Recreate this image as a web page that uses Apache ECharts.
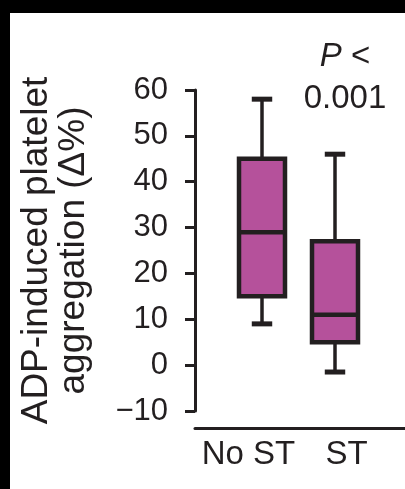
<!DOCTYPE html>
<html>
<head>
<meta charset="utf-8">
<script src="https://cdn.jsdelivr.net/npm/echarts@6/dist/echarts.min.js"></script>
<style>
  html, body { margin: 0; padding: 0; background: #000; width: 405px; height: 489px; overflow: hidden; }
  #chart { position: absolute; left: 10px; top: 13px; width: 395px; height: 476px; background: #fff; }
</style>
</head>
<body>
<div id="chart"></div>
<script>
// ---- data ----
const categories = ['No ST', 'ST'];
const lowWhisker = [9, -1.5];
const q1 = [15, 5];
const median = [29, 11];
const q3 = [45, 27];
const highWhisker = [58, 46];
const yMin = -10, yMax = 60, yInterval = 10;
const yTitle = 'ADP-induced platelet\naggregation (\u0394%)';
const pText = '{i|P} <\n0.001';

const INK = '#231f20';
const FILL = '#b5519b';
const FONT = 'Liberation Sans, Arial, Helvetica, sans-serif';

const boxData = categories.map((c, i) => [i, lowWhisker[i], q1[i], median[i], q3[i], highWhisker[i]]);

const chart = echarts.init(document.getElementById('chart'), null, { renderer: 'canvas' });
chart.setOption({
  animation: false,
  backgroundColor: '#fff',
  grid: [
    { left: 184, right: 0, top: 77, bottom: 78, containLabel: false },
    { left: 215.5, right: 33.5, top: 77, bottom: 78, containLabel: false }
  ],
  xAxis: [
    {
      gridIndex: 0, type: 'category', data: categories, position: 'bottom', offset: 17,
      axisLine: { show: true, onZero: false, lineStyle: { color: INK, width: 3 } },
      axisTick: { show: false },
      axisLabel: {
        interval: 0, hideOverlap: false,
        margin: 10, color: INK, fontSize: 33, fontFamily: FONT,
        formatter: (v, i) => i === 1 ? '{b|' + v + '}' : '{a|' + v + '}',
        rich: {
          a: { fontSize: 33, fontFamily: FONT, color: INK, padding: [0, 0, 0, 2] },
          b: { fontSize: 33, fontFamily: FONT, color: INK, padding: [0, 12, 0, 0] }
        }
      },
      splitLine: { show: false }
    },
    {
      gridIndex: 1, type: 'category', data: categories, show: false
    }
  ],
  yAxis: [
    {
      gridIndex: 0, type: 'value', min: yMin, max: yMax, interval: yInterval,
      name: yTitle, nameLocation: 'middle', nameGap: 103, nameRotate: 90,
      nameTextStyle: { fontSize: 37, lineHeight: 37, color: INK, fontFamily: FONT, align: 'center' },
      axisLine: { show: true, onZero: false, lineStyle: { color: INK, width: 3 } },
      axisTick: { show: true, length: 10, lineStyle: { color: INK, width: 3 } },
      axisLabel: {
        margin: 27, color: INK, fontSize: 31, fontFamily: FONT,
        formatter: v => String(v).replace('-', '\u2212')
      },
      splitLine: { show: false }
    },
    {
      gridIndex: 1, type: 'value', min: yMin, max: yMax, interval: yInterval, show: false
    }
  ],
  graphic: [
    {
      type: 'text', x: 335, y: 23,
      style: {
        text: pText, align: 'center', verticalAlign: 'top',
        fontSize: 33, fontFamily: FONT, fill: INK, lineHeight: 42,
        rich: {
          i: { fontStyle: 'italic', fontSize: 33, fontFamily: FONT, fill: INK, lineHeight: 42 }
        }
      }
    }
  ],
  series: [
    {
      type: 'custom',
      xAxisIndex: 1, yAxisIndex: 1,
      data: boxData,
      encode: { x: 0, y: [1, 2, 3, 4, 5] },
      renderItem: function (params, api) {
        const x = api.value(0);
        const lo = api.coord([x, api.value(1)]);
        const p1 = api.coord([x, api.value(2)]);
        const md = api.coord([x, api.value(3)]);
        const p3 = api.coord([x, api.value(4)]);
        const hi = api.coord([x, api.value(5)]);
        const band = api.size([1, 0])[0];
        const bw = band * 0.63;
        const cw = band * 0.28;
        const cx = lo[0];
        return {
          type: 'group',
          children: [
            { type: 'line', shape: { x1: cx, y1: hi[1], x2: cx, y2: p3[1] }, style: { stroke: INK, lineWidth: 3.5 } },
            { type: 'line', shape: { x1: cx, y1: p1[1], x2: cx, y2: lo[1] }, style: { stroke: INK, lineWidth: 3.5 } },
            { type: 'line', shape: { x1: cx - cw / 2, y1: hi[1], x2: cx + cw / 2, y2: hi[1] }, style: { stroke: INK, lineWidth: 5 } },
            { type: 'line', shape: { x1: cx - cw / 2, y1: lo[1], x2: cx + cw / 2, y2: lo[1] }, style: { stroke: INK, lineWidth: 5 } },
            { type: 'rect', shape: { x: cx - bw / 2, y: p3[1], width: bw, height: p1[1] - p3[1] }, style: { fill: FILL, stroke: INK, lineWidth: 4.5 } },
            { type: 'line', shape: { x1: cx - bw / 2, y1: md[1], x2: cx + bw / 2, y2: md[1] }, style: { stroke: INK, lineWidth: 4.5 } }
          ]
        };
      }
    }
  ]
});
</script>
</body>
</html>
